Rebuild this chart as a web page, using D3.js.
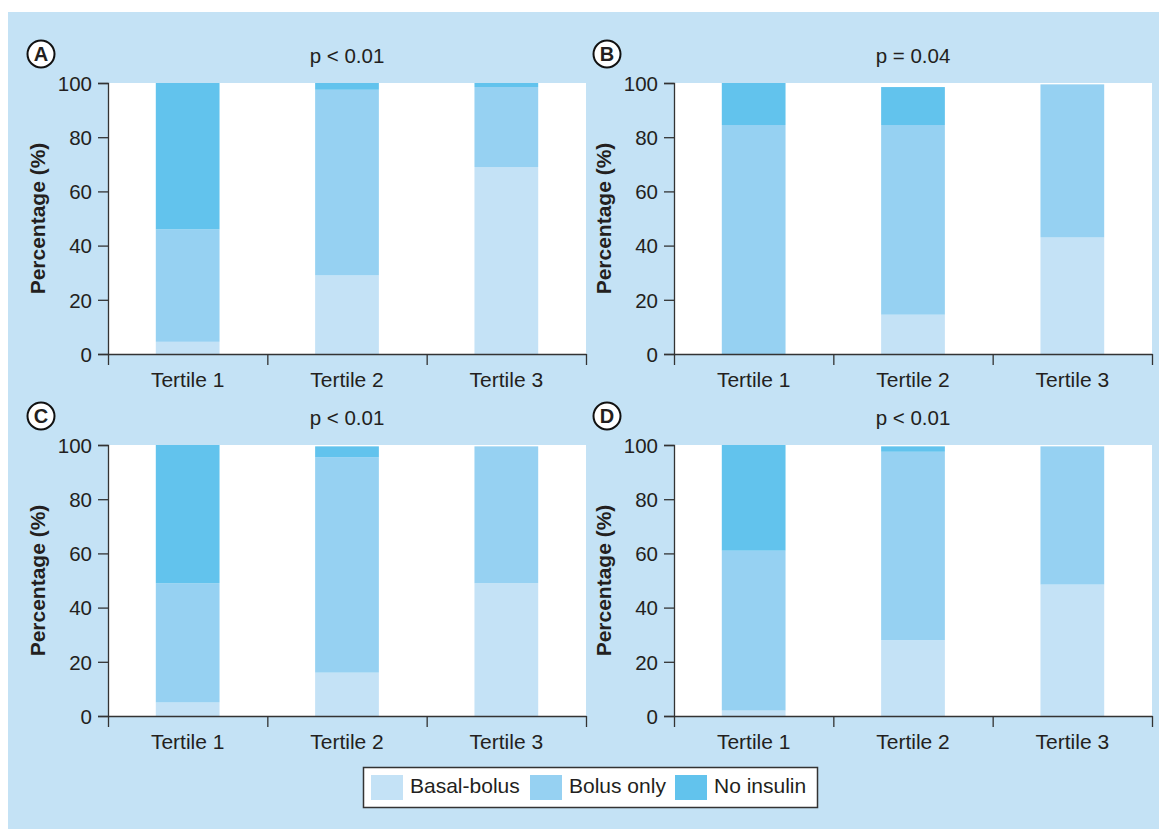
<!DOCTYPE html>
<html>
<head>
<meta charset="utf-8">
<script src="https://cdn.jsdelivr.net/npm/d3@7"></script>
<style>
  body { margin: 0; background: #fff; }
  svg text { font-family: "Liberation Sans", Arial, sans-serif; fill: #231f20; }
  .axis path, .axis line { stroke: #333; stroke-width: 1.3; }
</style>
</head>
<body>
<div id="chart"></div>
<script>
// data
var categories = ["Tertile 1", "Tertile 2", "Tertile 3"];
var panelLetters = ["A", "B", "C", "D"];
var pLabels = ["p < 0.01", "p = 0.04", "p < 0.01", "p < 0.01"];
var seriesNames = ["Basal-bolus", "Bolus only", "No insulin"];
var basalBolus = [[4.5, 29, 69], [0, 14.5, 43], [5, 16, 49], [2, 28, 48.5]];
var bolusOnly = [[41.5, 68.5, 29.5], [84.5, 70, 56.5], [44, 79.5, 50.5], [59, 69.5, 51]];
var noInsulin = [[54, 2.5, 1.5], [15.5, 14, 0], [51, 4, 0], [39, 2, 0]];
var yTicks = [0, 20, 40, 60, 80, 100];

var colours = ["#c4e2f6", "#96d1f2", "#62c3ed"];
var bg = "#c4e2f5";

var width = 1159, height = 829;
var svg = d3.select("#chart").append("svg")
  .attr("width", width)
  .attr("height", height);

svg.append("rect")
  .attr("x", 8).attr("y", 12)
  .attr("width", width - 8).attr("height", height - 12)
  .attr("fill", bg);

var plotW = 478, plotH = 271;
var origins = [[108, 83], [674, 83], [108, 445], [674, 445]];

var y = d3.scaleLinear().domain([0, 100]).range([plotH, 0]);
var xBand = d3.scaleBand().domain(categories).range([0, plotW])
  .paddingInner(0.6).paddingOuter(0.3);
var xEdge = d3.scaleLinear().domain([0, 3]).range([0, plotW]);
var colour = d3.scaleOrdinal().domain(seriesNames).range(colours);

panelLetters.forEach(function (letter, p) {
  var g = svg.append("g")
    .attr("transform", "translate(" + origins[p][0] + "," + origins[p][1] + ")");

  // white plotting area
  g.append("rect")
    .attr("width", plotW).attr("height", plotH)
    .attr("fill", "#fff");

  var rows = categories.map(function (c, i) {
    return {
      cat: c,
      "Basal-bolus": basalBolus[p][i],
      "Bolus only": bolusOnly[p][i],
      "No insulin": noInsulin[p][i]
    };
  });
  var stacked = d3.stack().keys(seriesNames)(rows);

  g.selectAll("g.layer")
    .data(stacked)
    .enter()
    .append("g")
    .attr("class", "layer")
    .attr("fill", d => colour(d.key))
    .selectAll("rect")
    .data(d => d)
    .enter()
    .append("rect")
    .attr("x", d => xBand(d.data.cat))
    .attr("width", xBand.bandwidth())
    .attr("y", d => y(d[1]))
    .attr("height", d => y(d[0]) - y(d[1]));

  // y axis
  var yAxis = g.append("g")
    .attr("class", "axis")
    .call(d3.axisLeft(y).tickValues(yTicks).tickSize(10).tickPadding(6));
  yAxis.selectAll("text")
    .style("font-size", "20.5px")
    .attr("dy", "0.36em");

  // x axis with ticks between the groups
  g.append("g")
    .attr("class", "axis")
    .attr("transform", "translate(0," + plotH + ")")
    .call(d3.axisBottom(xEdge).tickValues([0, 1, 2, 3]).tickSize(11).tickSizeOuter(0).tickFormat(""));

  var xLabels = g.append("g")
    .attr("transform", "translate(0," + plotH + ")")
    .call(d3.axisBottom(xBand).tickSize(0).tickPadding(18));
  xLabels.select(".domain").remove();
  xLabels.selectAll("text").style("font-size", "21px");

  // y label
  g.append("text")
    .attr("transform", "translate(-63," + (plotH / 2) + ") rotate(-90)")
    .attr("text-anchor", "middle")
    .style("font-size", "21px")
    .style("font-weight", "bold")
    .text("Percentage (%)");

  // p value
  g.append("text")
    .attr("x", plotW / 2)
    .attr("y", -20)
    .attr("text-anchor", "middle")
    .style("font-size", "20.5px")
    .text(pLabels[p]);

  // panel letter in a circle
  g.append("circle")
    .attr("cx", -67).attr("cy", -29).attr("r", 13.5)
    .attr("fill", "#fff")
    .attr("stroke", "#111")
    .attr("stroke-width", 2);
  g.append("text")
    .attr("x", -67).attr("y", -29)
    .attr("dy", "0.36em")
    .attr("text-anchor", "middle")
    .style("font-size", "20px")
    .style("font-weight", "bold")
    .text(letter);
});

// legend
var legend = svg.append("g").attr("transform", "translate(363,767)");
legend.append("rect")
  .attr("x", 0.5).attr("y", 0.5)
  .attr("width", 454).attr("height", 40)
  .attr("fill", "#fff")
  .attr("stroke", "#333")
  .attr("stroke-width", 1.5);

var legendX = [8, 167, 312];
seriesNames.forEach(function (name, i) {
  legend.append("rect")
    .attr("x", legendX[i]).attr("y", 8)
    .attr("width", 32).attr("height", 25)
    .attr("fill", colour(name));
  legend.append("text")
    .attr("x", legendX[i] + 39)
    .attr("y", 26)
    .style("font-size", "21px")
    .text(name);
});
</script>
</body>
</html>
